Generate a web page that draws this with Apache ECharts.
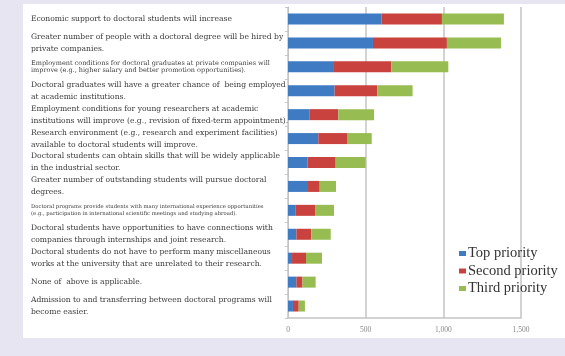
<!DOCTYPE html>
<html><head><meta charset="utf-8">
<script src="https://cdn.jsdelivr.net/npm/echarts@6/dist/echarts.min.js"></script>
<style>html,body{margin:0;padding:0;background:#e7e5f2}#c{width:565px;height:356px}</style>
</head><body><div id="c"></div>
<script>
var categories = [
  "Economic support to doctoral students will increase",
  "Greater number of people with a doctoral degree will be hired by\nprivate companies.",
  "Employment conditions for doctoral graduates at private companies will\nimprove (e.g., higher salary and better promotion opportunities).",
  "Doctoral graduates will have a greater chance of  being employed\nat academic institutions.",
  "Employment conditions for young researchers at academic\ninstitutions will improve (e.g., revision of fixed-term appointment).",
  "Research environment (e.g., research and experiment facilities)\navailable to doctoral students will improve.",
  "Doctoral students can obtain skills that will be widely applicable\nin the industrial sector.",
  "Greater number of outstanding students will pursue doctoral\ndegrees.",
  "Doctoral programs provide students with many international experience opportunities\n(e.g., participation in international scientific meetings and studying abroad).",
  "Doctoral students have opportunities to have connections with\ncompanies through internships and joint research.",
  "Doctoral students do not have to perform many miscellaneous\nworks at the university that are unrelated to their research.",
  "None of  above is applicable.",
  "Admission to and transferring between doctoral programs will\nbecome easier."
];
var seriesNames = ["Top priority", "Second priority", "Third priority"];
var topPriority    = [601, 547, 296, 300, 140, 195, 125, 129, 50, 54, 26, 54, 32];
var secondPriority = [390, 476, 369, 275, 184, 189, 182, 75, 124, 96, 90, 39, 37];
var thirdPriority  = [399, 348, 367, 227, 230, 155, 193, 105, 122, 125, 103, 85, 40];
var xTicks = { min: 0, max: 1500, interval: 500 };
var smallLabels = { 2: "m", 8: "s" };

var chart = echarts.init(document.getElementById('c'), null, {renderer: 'canvas'});
var serif = '"Liberation Serif", "DejaVu Serif", serif';
var wide = '"DejaVu Serif", "Liberation Serif", serif';
var colors = ['#3f7bc3', '#c9423e', '#97bd52'];
var values = [topPriority, secondPriority, thirdPriority];

chart.setOption({
  backgroundColor: '#e7e5f2',
  animation: false,
  graphic: [{
    type: 'rect', left: 23, top: 4, z: -10,
    shape: { width: 542, height: 334 },
    style: { fill: '#ffffff' }
  }],
  grid: { left: 288, right: 44, top: 7, bottom: 38, containLabel: false },
  legend: {
    data: seriesNames,
    orient: 'vertical',
    left: 454, top: 241,
    icon: 'rect', itemWidth: 7, itemHeight: 5, itemGap: 2.5,
    textStyle: { fontFamily: serif, fontSize: 14.5, color: '#333', padding: [0, 0, 0, -3] }
  },
  xAxis: {
    type: 'value', min: xTicks.min, max: xTicks.max, interval: xTicks.interval,
    axisLine: { show: true, lineStyle: { color: '#c4c4c4', width: 1.5 } },
    axisTick: { show: false },
    splitLine: { show: true, lineStyle: { color: '#c4c4c4', width: 1.5 } },
    axisLabel: {
      fontFamily: serif, fontSize: 7.5, color: '#888', margin: 8,
      formatter: function (v) { return v.toLocaleString('en-US'); }
    }
  },
  yAxis: {
    type: 'category', data: categories, inverse: true,
    axisLine: { show: true, lineStyle: { color: '#c4c4c4', width: 1 } },
    axisTick: { show: true, length: 3, lineStyle: { color: '#c8c8c8' } },
    axisLabel: {
      align: 'left', margin: 257, color: '#3a3a3a',
      fontFamily: wide, fontSize: 7.6, lineHeight: 12,
      formatter: function (v, i) {
        var k = smallLabels[i];
        if (k) return v.split('\n').map(function (l) { return '{' + k + '|' + l + '}'; }).join('\n');
        return v;
      },
      rich: {
        m: { fontFamily: wide, fontSize: 6.5, lineHeight: 7.5, color: '#3a3a3a' },
        s: { fontFamily: wide, fontSize: 5.3, lineHeight: 7.5, color: '#3a3a3a' }
      }
    }
  },
  series: seriesNames.map(function (n, i) {
    return {
      name: n, type: 'bar', stack: 'total', data: values[i],
      barWidth: 11, itemStyle: { color: colors[i] }
    };
  })
});
</script></body></html>
